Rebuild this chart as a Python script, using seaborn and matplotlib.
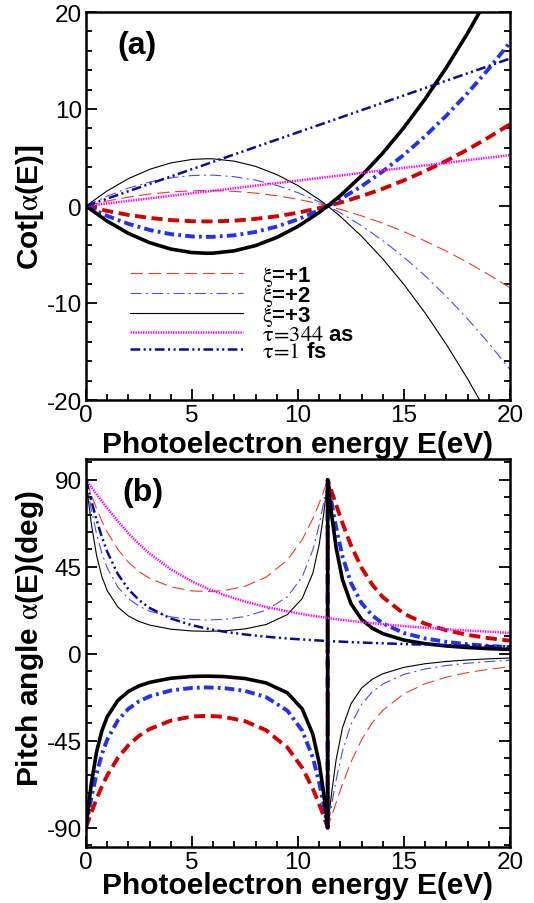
import matplotlib
matplotlib.use("Agg")
import matplotlib.pyplot as plt
import seaborn as sns
import pandas as pd
from matplotlib.ticker import MultipleLocator

# ---------------- panel (a): Cot[alpha(E)] ----------------
E_a = [0, 1, 2, 3, 4, 5, 5.7, 6, 7, 8, 9, 10, 11, 11.4, 12, 13, 14, 15, 16, 17, 18, 19, 20]
cot_xi_p1 = [0, 0.51, 0.92, 1.23, 1.45, 1.57, 1.59, 1.59, 1.51, 1.33, 1.06, 0.69, 0.22, 0,
             -0.35, -1.02, -1.78, -2.65, -3.61, -4.66, -5.82, -7.08, -8.43]
cot_xi_p2 = [0, 1.02, 1.84, 2.47, 2.90, 3.14, 3.18, 3.18, 3.02, 2.67, 2.12, 1.37, 0.43, 0,
             -0.71, -2.04, -3.57, -5.29, -7.21, -9.33, -11.64, -14.15, -16.86]
cot_xi_p3 = [0, 1.56, 2.82, 3.78, 4.44, 4.80, 4.87, 4.86, 4.62, 4.08, 3.24, 2.10, 0.66, 0,
             -1.08, -3.12, -5.46, -8.10, -11.04, -14.28, -17.82, -21.66, -25.80]
cot_xi_m1 = [0, -0.51, -0.92, -1.23, -1.45, -1.57, -1.59, -1.59, -1.51, -1.33, -1.06, -0.69, -0.22, 0,
             0.35, 1.02, 1.78, 2.65, 3.61, 4.66, 5.82, 7.08, 8.43]
cot_xi_m2 = [0, -1.02, -1.84, -2.47, -2.90, -3.14, -3.18, -3.18, -3.02, -2.67, -2.12, -1.37, -0.43, 0,
             0.71, 2.04, 3.57, 5.29, 7.21, 9.33, 11.64, 14.15, 16.86]
cot_xi_m3 = [0, -1.56, -2.82, -3.78, -4.44, -4.80, -4.87, -4.86, -4.62, -4.08, -3.24, -2.10, -0.66, 0,
             1.08, 3.12, 5.46, 8.10, 11.04, 14.28, 17.82, 21.66, 25.80]
cot_tau344 = [0, 0.26, 0.52, 0.79, 1.05, 1.31, 1.49, 1.57, 1.83, 2.10, 2.36, 2.62, 2.88, 2.99,
              3.14, 3.41, 3.67, 3.93, 4.19, 4.45, 4.72, 4.98, 5.24]
cot_tau1fs = [0, 0.76, 1.52, 2.28, 3.04, 3.80, 4.33, 4.56, 5.32, 6.08, 6.84, 7.60, 8.36, 8.66,
              9.12, 9.88, 10.64, 11.40, 12.16, 12.92, 13.68, 14.44, 15.20]

# ---------------- panel (b): pitch angle alpha(E) (deg) ----------------
E_b = [0, 0.1, 0.25, 0.5, 0.75, 1, 1.5, 2, 2.5, 3, 4, 5, 5.7, 6.5, 7.5, 8.5, 9.5, 10.2, 10.7,
       11.0, 11.2, 11.3, 11.4, 11.4, 11.5, 11.6, 11.8, 12.1, 12.5, 13, 13.5, 14, 15, 16, 17, 18, 19, 20]
ang_xi_p1 = [90, 86.83, 82.22, 75.05, 68.63, 63.0, 53.96, 47.35, 42.53, 39.0, 34.6, 32.5, 32.13, 32.65,
             34.91, 39.62, 48.52, 59.04, 69.85, 77.83, 83.74, 86.83, 90, -90, -86.77, -83.51, -76.98,
             -67.46, -56.03, -44.46, -35.75, -29.27, -20.7, -15.5, -12.1, -9.75, -8.04, -6.77]
ang_xi_p2 = [90, 83.68, 74.72, 61.9, 51.94, 44.46, 34.5, 28.5, 24.64, 22.04, 19.03, 17.69, 17.44, 17.77,
             19.23, 22.49, 29.48, 39.81, 53.72, 66.68, 77.62, 83.68, 90, -90, -83.57, -77.19, -65.17,
             -50.3, -36.58, -26.14, -19.8, -15.66, -10.7, -7.89, -6.12, -4.91, -4.04, -3.39]
ang_xi_p3 = [90, 80.38, 67.3, 50.73, 39.85, 32.66, 24.18, 19.53, 16.68, 14.82, 12.69, 11.77, 11.6, 11.82,
             12.83, 15.12, 20.26, 28.58, 41.68, 56.58, 71.43, 80.38, 90, -90, -80.21, -70.81, -54.7,
             -38.21, -25.87, -17.77, -13.23, -10.38, -7.04, -5.18, -4.0, -3.21, -2.64, -2.22]
ang_xi_m1 = [-90, -86.83, -82.22, -75.05, -68.63, -63.0, -53.96, -47.35, -42.53, -39.0, -34.6, -32.5, -32.13,
             -32.65, -34.91, -39.62, -48.52, -59.04, -69.85, -77.83, -83.74, -86.83, -90, 90, 86.77, 83.51,
             76.98, 67.46, 56.03, 44.46, 35.75, 29.27, 20.7, 15.5, 12.1, 9.75, 8.04, 6.77]
ang_xi_m2 = [-90, -83.68, -74.72, -61.9, -51.94, -44.46, -34.5, -28.5, -24.64, -22.04, -19.03, -17.69, -17.44,
             -17.77, -19.23, -22.49, -29.48, -39.81, -53.72, -66.68, -77.62, -83.68, -90, 90, 83.57, 77.19,
             65.17, 50.3, 36.58, 26.14, 19.8, 15.66, 10.7, 7.89, 6.12, 4.91, 4.04, 3.39]
ang_xi_m3 = [-90, -80.38, -67.3, -50.73, -39.85, -32.66, -24.18, -19.53, -16.68, -14.82, -12.69, -11.77, -11.6,
             -11.82, -12.83, -15.12, -20.26, -28.58, -41.68, -56.58, -71.43, -80.38, -90, 90, 80.21, 70.81,
             54.7, 38.21, 25.87, 17.77, 13.23, 10.38, 7.04, 5.18, 4.0, 3.21, 2.64, 2.22]
ang_tau344 = [90, 88.5, 86.25, 82.54, 78.88, 75.32, 68.55, 62.35, 56.78, 51.83, 43.66, 37.36, 33.81, 30.42,
              26.97, 24.18, 21.89, 20.51, 19.63, 19.14, 18.82, 18.66, 18.51, 18.51, 18.36, 18.21, 17.92,
              17.51, 16.98, 16.36, 15.79, 15.25, 14.28, 13.42, 12.65, 11.97, 11.36, 10.8]
ang_tau1fs = [90, 85.65, 79.24, 69.19, 60.32, 52.77, 41.26, 33.34, 27.76, 23.68, 18.21, 14.74, 13.0, 11.44,
              9.95, 8.8, 7.89, 7.35, 7.01, 6.82, 6.7, 6.64, 6.58, 6.58, 6.53, 6.47, 6.36, 6.21, 6.01,
              5.78, 5.57, 5.37, 5.01, 4.7, 4.43, 4.18, 3.96, 3.76]

legend_labels = [r"$\mathrm{\xi}$=+1", r"$\mathrm{\xi}$=+2", r"$\mathrm{\xi}$=+3",
                 r"$\mathrm{\tau\!=\!344}$ as", r"$\mathrm{\tau\!=\!1}$ fs"]

# ---------------- style ----------------
sns.set_style("ticks")
plt.rcParams["font.family"] = ["Liberation Sans", "DejaVu Sans"]
plt.rcParams["mathtext.fontset"] = "stix"
plt.rcParams["lines.scale_dashes"] = False
plt.rcParams["axes.unicode_minus"] = False
for k in ("text.color", "axes.labelcolor", "xtick.color", "ytick.color", "axes.edgecolor"):
    plt.rcParams[k] = "black"

RED_T, RED_K = "#f03a2e", "#d40000"
BLU_T, BLU_K = "#4a4aff", "#2233ee"
MAG, NAVY = "#ff00ff", "#0a0a9c"

styles = {
    "xi_p1": dict(color=RED_T, lw=0.8, ls=(0, (9, 4))),
    "xi_p2": dict(color=BLU_T, lw=0.8, ls=(0, (8, 3, 1.5, 3))),
    "xi_p3": dict(color="black", lw=0.8, ls="-"),
    "xi_m1": dict(color=RED_K, lw=2.8, ls=(0, (8, 4))),
    "xi_m2": dict(color=BLU_K, lw=2.8, ls=(0, (7, 3, 2, 3))),
    "xi_m3": dict(color="black", lw=2.6, ls="-"),
    "tau344": dict(color=MAG, lw=1.8, ls=(0, (1, 0.8))),
    "tau1fs": dict(color=NAVY, lw=1.8, ls=(0, (7, 2.5, 1.5, 2.5, 1.5, 2.5))),
}

fig = plt.figure(figsize=(5.34, 9.04), dpi=100)
ax_a = fig.add_axes([86 / 534, 1 - 401 / 904, 424 / 534, 388 / 904])
ax_b = fig.add_axes([86 / 534, 1 - 848 / 904, 424 / 534, 388.5 / 904])


def draw(ax, x, y, key):
    st = styles[key]
    sns.lineplot(x=x, y=y, ax=ax, estimator=None, sort=False, errorbar=None,
                 color=st["color"], linewidth=st["lw"], linestyle=st["ls"])
    return ax.lines[-1]


series_a = [("xi_p1", cot_xi_p1), ("xi_p2", cot_xi_p2), ("xi_p3", cot_xi_p3),
            ("xi_m1", cot_xi_m1), ("xi_m2", cot_xi_m2), ("xi_m3", cot_xi_m3),
            ("tau344", cot_tau344), ("tau1fs", cot_tau1fs)]
series_b = [("xi_p1", ang_xi_p1), ("xi_p2", ang_xi_p2), ("xi_p3", ang_xi_p3),
            ("xi_m1", ang_xi_m1), ("xi_m2", ang_xi_m2), ("xi_m3", ang_xi_m3),
            ("tau344", ang_tau344), ("tau1fs", ang_tau1fs)]

handles = {}
for key, vals in series_a:
    handles[key] = draw(ax_a, E_a, vals, key)
for key, vals in series_b:
    draw(ax_b, E_b, vals, key)

LABEL_FS = 21.5
TICK_FS = 17.5

for ax, lp in ((ax_a, 3), (ax_b, -1.5)):
    ax.set_xlim(0, 20)
    ax.xaxis.set_major_locator(MultipleLocator(5))
    ax.xaxis.set_minor_locator(MultipleLocator(1))
    ax.tick_params(which="both", direction="in", top=False, right=True,
                   labelsize=TICK_FS, width=1.3, pad=3, color="black", labelcolor="black")
    ax.tick_params(which="major", length=8)
    ax.tick_params(which="minor", length=4.5)
    for sp in ax.spines.values():
        sp.set_visible(True)
        sp.set_linewidth(1.8)
        sp.set_color("black")
    ax.set_xlabel("Photoelectron energy E(eV)", fontsize=LABEL_FS, fontweight="bold", labelpad=lp)

ax_a.set_ylim(-20, 20)
ax_a.yaxis.set_major_locator(MultipleLocator(10))
ax_a.yaxis.set_minor_locator(MultipleLocator(2))
ax_a.set_ylabel(r"Cot[$\mathrm{\alpha}$(E)]", fontsize=LABEL_FS, fontweight="bold")
ax_a.yaxis.set_label_coords(-0.095, 0.5)

ax_b.set_ylim(-100, 101)
ax_b.set_yticks([-90, -45, 0, 45, 90])
ax_b.yaxis.set_minor_locator(MultipleLocator(9))
ax_b.set_ylabel(r"Pitch angle $\mathrm{\alpha}$(E)(deg)", fontsize=LABEL_FS, fontweight="bold")
ax_b.yaxis.set_label_coords(-0.095, 0.54)

ax_a.text(0.12, 0.915, "(a)", transform=ax_a.transAxes, fontsize=23, fontweight="bold",
          ha="center", va="center")
ax_b.text(0.134, 0.915, "(b)", transform=ax_b.transAxes, fontsize=23, fontweight="bold",
          ha="center", va="center")

leg_handles = [handles["xi_p1"], handles["xi_p2"], handles["xi_p3"],
               handles["tau344"], handles["tau1fs"]]
ax_a.legend(leg_handles, legend_labels, loc="center left", bbox_to_anchor=(0.104, 0.2255),
            frameon=False, borderpad=0, borderaxespad=0, handlelength=5.1,
            handletextpad=0.85, labelspacing=-0.18,
            prop=dict(family="Liberation Sans", weight="bold", size=16))

fig.savefig("out.png", dpi=100)
